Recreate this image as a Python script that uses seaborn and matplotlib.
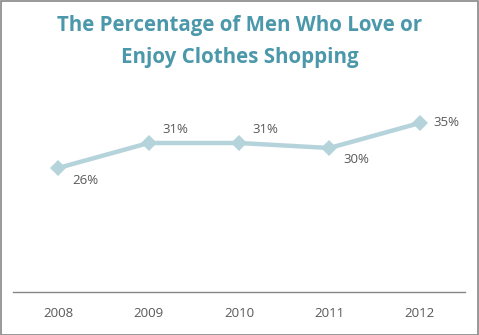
import matplotlib
matplotlib.use("Agg")
import matplotlib.pyplot as plt
import seaborn as sns
import pandas as pd

years = ["2008", "2009", "2010", "2011", "2012"]
values = [26, 31, 31, 30, 35]
labels = ["26%", "31%", "31%", "30%", "35%"]
# label offsets in points (dx, dy)
offsets = [(10, -9), (10, 10), (10, 10), (10, -8), (10, 0)]

sns.set_theme(style="white")
plt.rcParams['font.family'] = ['Open Sans', 'DejaVu Sans']

fig = plt.figure(figsize=(4.79, 3.35), dpi=100)
ax = fig.add_axes([13/479, 43/335, 452/479, 194/335])

df = pd.DataFrame({"year": years, "value": values})
df["x"] = range(len(years))
sns.lineplot(data=df, x="x", y="value", ax=ax, color="#b5d3db", linewidth=3.2,
             marker="D", markersize=8, markeredgewidth=0, markeredgecolor="#b5d3db")

for i, (v, lab, off) in enumerate(zip(values, labels, offsets)):
    ax.annotate(lab, (i, v), xytext=off, textcoords="offset points",
                ha="left", va="center", fontsize=9.5, color="#595959")

ax.set_xlim(-0.5, len(years) - 0.5)
ax.set_ylim(1.2, 40)
ax.set_xticks(range(len(years)))
ax.set_xticklabels(years, fontsize=9.5, color="#595959")
ax.tick_params(axis="x", length=0, pad=11)
ax.set_yticks([])
ax.set_xlabel("")
ax.set_ylabel("")
for s in ["top", "left", "right"]:
    ax.spines[s].set_visible(False)
ax.spines["bottom"].set_color("#868686")
ax.spines["bottom"].set_linewidth(1)

fig.text(0.5, 1 - 26/335, "The Percentage of Men Who Love or", ha="center", va="center",
         fontsize=14.8, fontweight="bold", color="#4b98ab")
fig.text(0.5, 1 - 57/335, "Enjoy Clothes Shopping", ha="center", va="center",
         fontsize=14.8, fontweight="bold", color="#4b98ab")

border = plt.Rectangle((0.5/479, 0.5/335), 1 - 1.5/479, 1 - 1.5/335, transform=fig.transFigure,
                       fill=False, edgecolor="#888888", linewidth=1.2)
fig.patches.append(border)

fig.savefig("out.png", dpi=100)
